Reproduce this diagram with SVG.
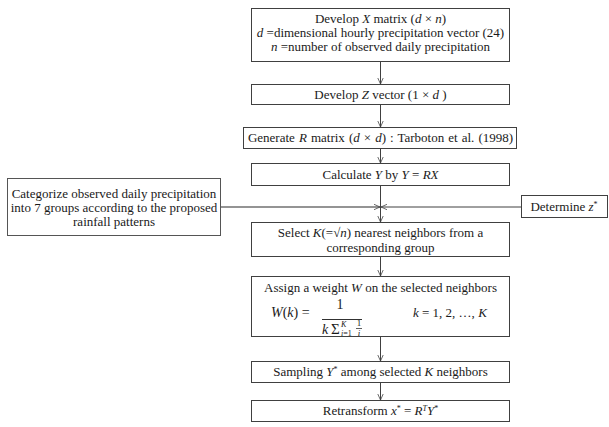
<svg xmlns="http://www.w3.org/2000/svg" width="609" height="427" viewBox="0 0 609 427">
<defs>
<style>
.box{fill:#fff;stroke:#404040;stroke-width:1}
text{font-family:'Liberation Serif','DejaVu Serif',serif;fill:#1a1a1a}
.t{font-size:13px;text-anchor:middle}
.i{font-style:italic}
.ln{stroke:#404040;stroke-width:1;fill:none}
</style>
<marker id="arr" viewBox="0 0 10 10" refX="10" refY="5" markerWidth="6" markerHeight="7" orient="auto" markerUnits="userSpaceOnUse">
<path d="M0,0.5 L10,5 L0,9.5" fill="none" stroke="#404040" stroke-width="1.3"/>
</marker>
</defs>
<rect width="609" height="427" fill="#fff"/>
<g id="connectors">
<line class="ln" x1="380.5" y1="62" x2="380.5" y2="84" marker-end="url(#arr)"/>
<line class="ln" x1="380.5" y1="105" x2="380.5" y2="127" marker-end="url(#arr)"/>
<line class="ln" x1="380.5" y1="149" x2="380.5" y2="163" marker-end="url(#arr)"/>
<line class="ln" x1="380.5" y1="186" x2="380.5" y2="222" marker-end="url(#arr)"/>
<line class="ln" x1="221" y1="207" x2="380" y2="207" marker-end="url(#arr)" style="stroke:#707070;stroke-width:1.5"/>
<line class="ln" x1="521" y1="207" x2="381" y2="207" marker-end="url(#arr)"/>
<line class="ln" x1="380.5" y1="257" x2="380.5" y2="276" marker-end="url(#arr)"/>
<line class="ln" x1="380.5" y1="337" x2="380.5" y2="361" marker-end="url(#arr)"/>
<line class="ln" x1="380.5" y1="382" x2="380.5" y2="400" marker-end="url(#arr)"/>
</g>
<g id="n1">
<rect class="box" x="251.5" y="8.5" width="258" height="53"/>
<text class="t" x="380.5" y="23">Develop <tspan class="i">X</tspan> matrix (<tspan class="i">d</tspan> × <tspan class="i">n</tspan>)</text>
<text class="t" x="380.5" y="37"><tspan class="i">d</tspan> =dimensional hourly precipitation vector (24)</text>
<text class="t" x="380.5" y="51"><tspan class="i">n</tspan> =number of observed daily precipitation</text>
</g>
<g id="n2">
<rect class="box" x="251.5" y="84.5" width="258" height="20"/>
<text class="t" x="380.5" y="99">Develop <tspan class="i">Z</tspan> vector (1 × <tspan class="i">d</tspan> )</text>
</g>
<g id="n3">
<rect class="box" x="243.5" y="127.5" width="273" height="21"/>
<text class="t" x="380.5" y="142" word-spacing="0.8">Generate <tspan class="i">R</tspan> matrix (<tspan class="i">d</tspan> × <tspan class="i">d</tspan>) : Tarboton et al. (1998)</text>
</g>
<g id="n4">
<rect class="box" x="251.5" y="163.5" width="258" height="22"/>
<text class="t" x="380.5" y="179">Calculate <tspan class="i">Y</tspan> by <tspan class="i">Y</tspan> = <tspan class="i">RX</tspan></text>
</g>
<g id="nleft">
<rect class="box" x="7.5" y="178.5" width="213" height="57" style="stroke:#555"/>
<text class="t" x="114" y="198" font-size="12.6">Categorize observed daily precipitation</text>
<text class="t" x="114" y="212" font-size="12.6">into 7 groups according to the proposed</text>
<text class="t" x="114" y="226" font-size="12.6">rainfall patterns</text>
</g>
<g id="nright">
<rect class="box" x="521.5" y="195.5" width="86" height="22"/>
<text class="t" x="564" y="211">Determine <tspan class="i">z</tspan><tspan font-size="8" dy="-4">*</tspan></text>
</g>
<g id="n5">
<rect class="box" x="251.5" y="222.5" width="258" height="34"/>
<text class="t" x="380.5" y="237">Select <tspan class="i">K</tspan>(=√<tspan class="i">n</tspan>) nearest neighbors from a</text>
<text class="t" x="380.5" y="252">corresponding group</text>
</g>
<g id="n6">
<rect class="box" x="251.5" y="276.5" width="258" height="60"/>
<text class="t" x="380.5" y="292">Assign a weight <tspan class="i">W</tspan> on the selected neighbors</text>
<text x="271" y="317" font-size="14"><tspan class="i">W</tspan>(<tspan class="i">k</tspan>) =</text>
<text x="340" y="309" font-size="14" text-anchor="middle">1</text>
<line x1="322" y1="319.5" x2="362" y2="319.5" stroke="#1a1a1a" stroke-width="0.9"/>
<text class="i" x="322" y="334" font-size="14">k</text>
<text x="331" y="334" font-size="15">Σ</text>
<text class="i" x="341" y="327" font-size="8">K</text>
<text x="341" y="336" font-size="8"><tspan class="i">i</tspan>=1</text>
<text x="359" y="326" font-size="9" text-anchor="middle">1</text>
<line x1="356" y1="328.5" x2="362" y2="328.5" stroke="#1a1a1a" stroke-width="0.7"/>
<text class="i" x="359" y="336" font-size="9" text-anchor="middle">i</text>
<text x="413" y="317" font-size="13"><tspan class="i">k</tspan> = 1, 2, …, <tspan class="i">K</tspan></text>
</g>
<g id="n7">
<rect class="box" x="251.5" y="361.5" width="258" height="21"/>
<text class="t" x="380.5" y="376">Sampling <tspan class="i">Y</tspan><tspan font-size="8" dy="-4">*</tspan><tspan dy="4"> among selected </tspan><tspan class="i">K</tspan> neighbors</text>
</g>
<g id="n8">
<rect class="box" x="251.5" y="400.5" width="258" height="21"/>
<text class="t" x="380.5" y="415">Retransform  <tspan class="i">x</tspan><tspan font-size="8" dy="-4">*</tspan><tspan dy="4"> = </tspan><tspan class="i">R</tspan><tspan class="i" font-size="8" dy="-4">T</tspan><tspan class="i" dy="4">Y</tspan><tspan font-size="8" dy="-4">*</tspan></text>
</g>
</svg>
